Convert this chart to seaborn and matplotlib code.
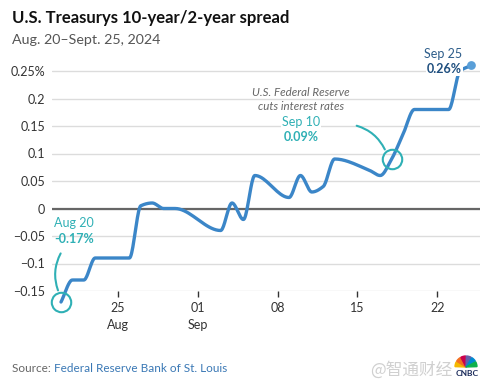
import numpy as np
import pandas as pd
import matplotlib
matplotlib.use("Agg")
import matplotlib.pyplot as plt
import matplotlib.dates as mdates
from matplotlib.patches import Wedge
import seaborn as sns

# daily values of the 10y-2y spread (business days)
dates = ["2024-08-20", "2024-08-21", "2024-08-22", "2024-08-23", "2024-08-26",
         "2024-08-27", "2024-08-28", "2024-08-29", "2024-08-30", "2024-09-03",
         "2024-09-04", "2024-09-05", "2024-09-06", "2024-09-09", "2024-09-10",
         "2024-09-11", "2024-09-12", "2024-09-13", "2024-09-16", "2024-09-17",
         "2024-09-18", "2024-09-19", "2024-09-20", "2024-09-23", "2024-09-24",
         "2024-09-25"]
spread = [-0.17, -0.13, -0.13, -0.09, -0.09,
          0.005, 0.01, 0.0, 0.0, -0.04,
          0.01, -0.02, 0.06, 0.02, 0.06,
          0.03, 0.04, 0.09, 0.07, 0.06,
          0.09, 0.135, 0.18, 0.18, 0.25,
          0.26]

ytick_vals = [-0.15, -0.1, -0.05, 0, 0.05, 0.1, 0.15, 0.2, 0.25]
ytick_labels = ["\u22120.15", "\u22120.1", "\u22120.05", "0", "0.05", "0.1", "0.15", "0.2", "0.25%"]
xtick_dates = ["2024-08-25", "2024-09-01", "2024-09-08", "2024-09-15", "2024-09-22"]
xtick_labels = ["25\nAug", "01\nSep", "08", "15", "22"]

BLUE = "#3b86c8"
TEAL = "#2fb0b5"
NAVY = "#1f4f7f"
GRID = "#dcdcdc"


def monotone(x, y, n=20):
    # monotone cubic (Fritsch-Carlson) so the line looks like the d3 curve
    x = np.asarray(x, float)
    y = np.asarray(y, float)
    h = np.diff(x)
    d = np.diff(y) / h
    m = np.zeros_like(y)
    m[0], m[-1] = d[0], d[-1]
    for i in range(1, len(y) - 1):
        if d[i - 1] * d[i] <= 0:
            m[i] = 0
        else:
            w1 = 2 * h[i] + h[i - 1]
            w2 = h[i] + 2 * h[i - 1]
            m[i] = (w1 + w2) / (w1 / d[i - 1] + w2 / d[i])
    xs, ys = [], []
    for i in range(len(x) - 1):
        t = np.linspace(0, 1, n, endpoint=False)
        h00 = 2 * t**3 - 3 * t**2 + 1
        h10 = t**3 - 2 * t**2 + t
        h01 = -2 * t**3 + 3 * t**2
        h11 = t**3 - t**2
        xs.append(x[i] + t * h[i])
        ys.append(h00 * y[i] + h10 * h[i] * m[i] + h01 * y[i + 1] + h11 * h[i] * m[i + 1])
    xs.append([x[-1]])
    ys.append([y[-1]])
    return np.concatenate(xs), np.concatenate(ys)


sns.set_theme(style="white")
plt.rcParams["font.family"] = ["Lato", "DejaVu Sans"]

W, H = 490, 386
fig = plt.figure(figsize=(W / 100, H / 100), dpi=100)
ax = fig.add_axes([52 / W, 1 - 291 / H, 428 / W, 231 / H])


def fp(x, y):
    # pixel position (from top-left) -> figure fraction
    return x / W, 1 - y / H


xnum = mdates.date2num(pd.to_datetime(dates))
sx, sy = monotone(xnum, spread)
df = pd.DataFrame({"x": sx, "y": sy})

for v in ytick_vals:
    ax.axhline(v, color=GRID, lw=1, zorder=1)
ax.axhline(0, color="#666666", lw=1.6, zorder=2)

sns.lineplot(data=df, x="x", y="y", ax=ax, color=BLUE, lw=2.4, estimator=None,
             sort=False, zorder=3, clip_on=False)
end = pd.DataFrame({"x": [xnum[-1]], "y": [spread[-1]]})
sns.scatterplot(data=end, x="x", y="y", ax=ax, color="#5a9fd8", s=40, edgecolor="none",
                zorder=6, clip_on=False)

ax.set_xlim(xnum[0] - 0.79, xnum[-1] + 0.75)
ax.set_ylim(-0.15, 0.27)
ax.set_yticks(ytick_vals)
ax.set_yticklabels(ytick_labels)
ax.set_xticks(mdates.date2num(pd.to_datetime(xtick_dates)))
ax.set_xticklabels(xtick_labels, linespacing=1.5)
ax.tick_params(axis="x", length=4, width=1, color="#333333", pad=4, labelsize=9,
               labelcolor="#333333", bottom=True)
ax.tick_params(axis="y", length=0, pad=5, labelsize=9, labelcolor="#333333")
ax.set_xlabel("")
ax.set_ylabel("")
for s in ax.spines.values():
    s.set_visible(False)

# highlight circles on start and the cut day
for i in [0, 20]:
    ax.plot(xnum[i], spread[i], marker="o", ms=14, mfc="none", mec=TEAL, mew=1.5,
            zorder=5, clip_on=False)

# annotations
fig.text(*fp(74, 223), "Aug 20", color=TEAL, fontsize=9, ha="center", va="center")
fig.text(*fp(74, 239), "-0.17%", color=TEAL, fontsize=9, fontweight="bold", ha="center", va="center")
ax.annotate("", xy=fp(59, 293), xytext=fp(62, 251), xycoords="figure fraction",
            textcoords="figure fraction",
            arrowprops=dict(arrowstyle="-", color=TEAL, lw=1.5, connectionstyle="arc3,rad=0.25"))

fig.text(*fp(301, 92), "U.S. Federal Reserve", color="#666666", fontsize=8.3, style="italic",
         ha="center", va="center")
fig.text(*fp(301, 107), "cuts interest rates", color="#666666", fontsize=8.3, style="italic",
         ha="center", va="center")
fig.text(*fp(301, 122), "Sep 10", color=TEAL, fontsize=9, ha="center", va="center",
         bbox=dict(facecolor="white", edgecolor="none", pad=0.5))
fig.text(*fp(301, 137), "0.09%", color=TEAL, fontsize=9, fontweight="bold", ha="center", va="center")
ax.annotate("", xy=fp(386, 152), xytext=fp(354, 125), xycoords="figure fraction",
            textcoords="figure fraction",
            arrowprops=dict(arrowstyle="-", color=TEAL, lw=1.5, connectionstyle="arc3,rad=-0.25"))

fig.text(*fp(462, 54), "Sep 25", color="#2d5d8a", fontsize=9, ha="right", va="center")
fig.text(*fp(462, 69), "0.26%", color=NAVY, fontsize=9, fontweight="bold", ha="right", va="center",
         zorder=5, bbox=dict(facecolor="white", edgecolor="none", pad=0.8))

# titles
fig.text(*fp(12, 18), "U.S. Treasurys 10-year/2-year spread", fontsize=12, fontweight="bold",
         color="#111111", ha="left", va="center")
fig.text(*fp(12, 40), "Aug. 20\u2013Sept. 25, 2024", fontsize=10.3, color="#555555",
         ha="left", va="center")

src = fig.text(*fp(12, 369), "Source: ", fontsize=8.5, color="#666666", ha="left", va="center")
fig.canvas.draw()
bb = src.get_window_extent()
fig.text(bb.x1 / W, 1 - 369 / H, "Federal Reserve Bank of St. Louis", fontsize=8.5,
         color="#3a78b5", ha="left", va="center")

# watermark + little peacock
fig.text(*fp(411, 370), "@智通财经", fontsize=12, color="#d0d0d0", ha="center", va="center",
         family=["Noto Sans CJK SC", "DejaVu Sans"])
cx, cy = fp(466, 367)
cols = ["#f5b800", "#f37021", "#cc004c", "#6460aa", "#0089d0", "#0db14b"]
for k, c in enumerate(cols):
    a0 = 180 - k * 30
    fig.patches.append(Wedge((cx * W, cy * H), 11, a0 - 28, a0 - 2, color=c,
                             transform=None, figure=fig))
fig.text(*fp(467, 374), "CNBC", fontsize=6, fontweight="bold", color="#1a2a5a",
         ha="center", va="center")

fig.savefig("out.png", dpi=100)
